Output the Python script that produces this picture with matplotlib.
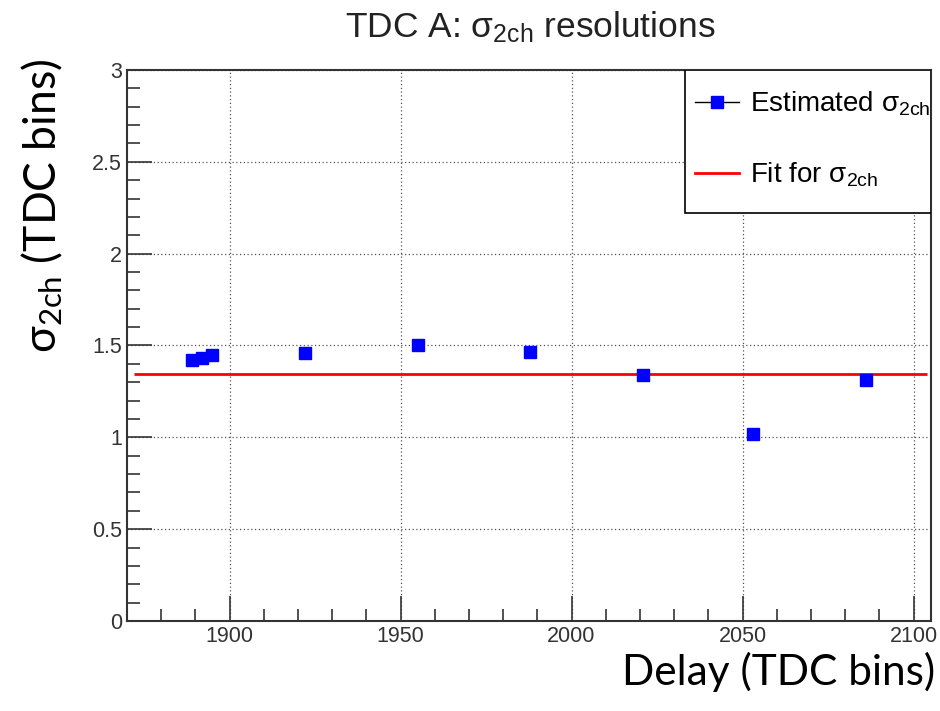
import numpy as np
import matplotlib.pyplot as plt
from matplotlib.lines import Line2D
from matplotlib.patches import Rectangle
from matplotlib.ticker import MultipleLocator

# -----------------------------
# Datos
# -----------------------------
delay = [1889, 1892, 1895, 1922, 1955, 1988, 2021, 2053, 2086]
sigma_2ch = [1.42, 1.43, 1.45, 1.46, 1.50, 1.465, 1.34, 1.02, 1.31]
fit_value = 1.345
x_range = [1870, 2105]

# -----------------------------
# Figura
# -----------------------------
fig = plt.figure(figsize=(9.4, 7.11), dpi=100)
ax = fig.add_axes([0.135, 0.1266, 0.855, 0.775])

ax.hlines(fit_value, x_range[0] + 2, x_range[1] - 1, color="#ff0000", lw=2, zorder=3)
ax.plot(delay, sigma_2ch, "s", color="#0000ff", markersize=9, zorder=4)

ax.set_xlim(x_range)
ax.set_ylim(0, 3)

ax.xaxis.set_major_locator(MultipleLocator(50))
ax.xaxis.set_minor_locator(MultipleLocator(10))
ax.yaxis.set_major_locator(MultipleLocator(0.5))
ax.yaxis.set_minor_locator(MultipleLocator(0.1))
ax.yaxis.set_major_formatter(plt.FuncFormatter(lambda v, p: f"{v:g}"))

ax.tick_params(which="both", direction="in", top=False, right=False,
               labelsize=15.5, color="#333333")
ax.tick_params(which="major", length=18, width=1.2)
ax.tick_params(which="minor", length=9, width=1.2)
for lab in ax.get_xticklabels() + ax.get_yticklabels():
    lab.set_family("Liberation Sans")
    lab.set_color("#333333")

ax.grid(True, which="major", linestyle=(0, (1, 2)), color="#555555", lw=0.9)
for s in ax.spines.values():
    s.set_color("#333333")
    s.set_linewidth(1.5)

# Títulos
fig.text(0.564, 0.962, r"TDC A: $\mathregular{\sigma_{2ch}}$ resolutions",
         ha="center", va="center", fontsize=25.5, family="Liberation Sans", color="#222222")
fig.text(0.045, 0.71, r"$\mathregular{\sigma_{2ch}}$ (TDC bins)", rotation=90,
         ha="center", va="center", fontsize=32, family="Lato")
fig.text(0.995, 0.055, "Delay (TDC bins)", ha="right", va="center",
         fontsize=30.5, family="Lato")

# Leyenda (marco dibujado aparte)
ax.add_patch(Rectangle((0.694, 0.740), 0.306, 0.26, transform=ax.transAxes,
                       facecolor="white", edgecolor="black", lw=1.2, zorder=4.5))
handles = [
    Line2D([], [], color="black", lw=1, marker="s", markersize=9,
           markerfacecolor="#0000ff", markeredgecolor="#0000ff"),
    Line2D([], [], color="#ff0000", lw=2),
]
labels = [r"Estimated $\mathregular{\sigma_{2ch}}$", r"Fit for $\mathregular{\sigma_{2ch}}$"]
leg = ax.legend(handles, labels, loc="upper right", bbox_to_anchor=(1.021, 0.995),
                borderaxespad=0, frameon=False, labelspacing=1.55, handlelength=1.6,
                borderpad=0.6, handletextpad=0.4,
                prop={"family": "Liberation Sans", "size": 20})
leg.set_zorder(6)

plt.savefig("out.png")
